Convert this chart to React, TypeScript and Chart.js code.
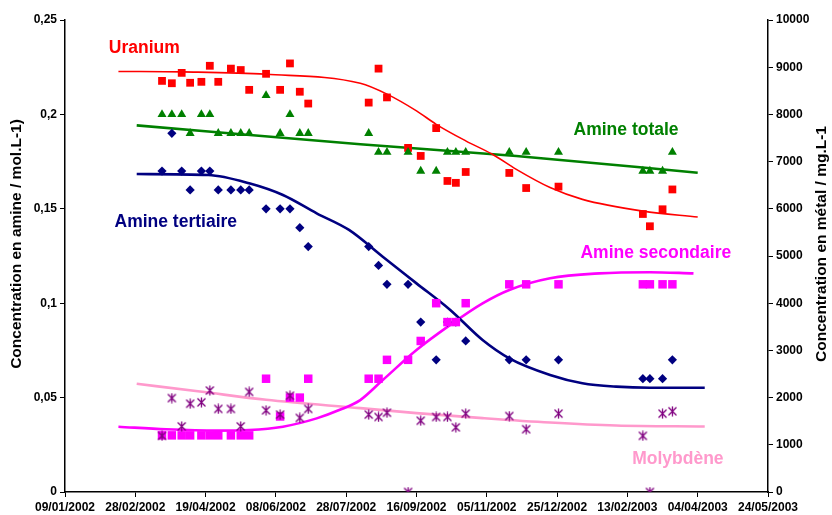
import React, { useEffect, useRef } from 'react';
import { Chart, registerables } from 'chart.js';

Chart.register(...registerables);

// ---------- data ----------
const START_DATE = '2002-01-09';
const X_MAX_DAYS = 500;
const X_STEP_DAYS = 50;

const sampleDates = [
  '2002-03-19', '2002-03-26', '2002-04-02', '2002-04-08', '2002-04-16', '2002-04-22',
  '2002-04-28', '2002-05-07', '2002-05-14', '2002-05-20', '2002-06-01', '2002-06-11',
  '2002-06-18', '2002-06-25', '2002-07-01', '2002-08-13', '2002-08-20', '2002-08-26',
  '2002-09-10', '2002-09-19', '2002-09-30', '2002-10-08', '2002-10-14', '2002-10-21',
  '2002-11-21', '2002-12-03', '2002-12-26', '2003-02-24', '2003-03-01', '2003-03-10',
  '2003-03-17',
];

// mg.L-1 (right axis)
const uranium = [
  8710, 8660, 8880, 8670, 8690, 9030, 8690, 8970, 8940, 8520, 8860, 8520,
  9080, 8480, 8230, 8250, 8970, 8360, 7290, 7120, 7710, 6590, 6550, 6780,
  6760, 6440, 6470, 5890, 5630, 5990, 6410,
];
const molybdene = [
  1190, 1990, 1390, 1870, 1900, 2150, 1760, 1760, 1390, 2120, 1730, 1640,
  2040, 1570, 1760, 1640, 1590, 1680, 0, 1510, 1590, 1590, 1370, 1660,
  1610, 1330, 1660, 1190, 0, 1660, 1710,
];
// mol.L-1 (left axis)
const amineTotale = [
  0.20, 0.20, 0.20, 0.19, 0.20, 0.20, 0.19, 0.19, 0.19, 0.19, 0.21, 0.19,
  0.20, 0.19, 0.19, 0.19, 0.18, 0.18, 0.18, 0.17, 0.17, 0.18, 0.18, 0.18,
  0.18, 0.18, 0.18, 0.17, 0.17, 0.17, 0.18,
];
const amineTertiaire = [
  0.17, 0.19, 0.17, 0.16, 0.17, 0.17, 0.16, 0.16, 0.16, 0.16, 0.15, 0.15,
  0.15, 0.14, 0.13, 0.13, 0.12, 0.11, 0.11, 0.09, 0.07, 0.09, 0.09, 0.08,
  0.07, 0.07, 0.07, 0.06, 0.06, 0.06, 0.07,
];
const amineSecondaire = [
  0.03, 0.03, 0.03, 0.03, 0.03, 0.03, 0.03, 0.03, 0.03, 0.03, 0.06, 0.04,
  0.05, 0.05, 0.06, 0.06, 0.06, 0.07, 0.07, 0.08, 0.10, 0.09, 0.09, 0.10,
  0.11, 0.11, 0.11, 0.11, 0.11, 0.11, 0.11,
];

// fitted curves (x = days since 09/01/2002)
const uraniumFitDays = [38, 84, 143, 210, 229, 250, 264, 285, 304, 321, 345, 368, 411, 450];
const uraniumFit = [8910, 8900, 8850, 8660, 8430, 8075, 7790, 7440, 7155, 6835, 6450, 6200, 5950, 5825];

const totaleFitDays = [51, 210, 321, 450];
const totaleFit = [0.1942, 0.1842, 0.1780, 0.1691];

const tertiaireFitDays = [51, 102, 131, 155, 179, 202, 226, 250, 274, 297, 316, 345, 368, 392, 416, 455];
const tertiaireFit = [0.1684, 0.1679, 0.1635, 0.1573, 0.1476, 0.1388, 0.1246, 0.1105, 0.0964, 0.0805, 0.0708, 0.0620, 0.0576, 0.0558, 0.0552, 0.0552];

const secondaireFitDays = [38, 72, 108, 131, 155, 179, 195, 210, 226, 250, 274, 297, 316, 345, 380, 416, 447];
const secondaireFit = [0.0346, 0.0332, 0.0325, 0.0328, 0.0346, 0.0390, 0.0434, 0.0487, 0.0593, 0.0752, 0.0885, 0.0999, 0.1070, 0.1132, 0.1158, 0.1164, 0.1158];

const molybdeneFitDays = [51, 96, 143, 210, 250, 297, 345, 392, 455];
const molybdeneFit = [2293, 2129, 1953, 1777, 1671, 1565, 1471, 1408, 1387];

// series labels (x = days, y = left-axis value at text baseline)
const labelTexts = ['Uranium', 'Amine totale', 'Amine tertiaire', 'Amine secondaire', 'Molybdène'];
const labelDays = [31.2, 361.7, 35.2, 366.6, 403.4];
const labelValues = [0.2324, 0.1891, 0.1402, 0.1238, 0.0148];
const labelColors = ['#FF0000', '#008000', '#000080', '#FF00FF', '#FF99CC'];

const leftTitle = 'Concentration en amine / mol.L-1)';
const rightTitle = 'Concentration en métal / mg.L-1';

// ---------- helpers ----------
const DAY_MS = 86400000;
const parseUTC = (s: string) => {
  const [y, m, d] = s.split('-').map(Number);
  return Date.UTC(y, m - 1, d);
};
const startMs = parseUTC(START_DATE);
const dayOf = (s: string) => Math.round((parseUTC(s) - startMs) / DAY_MS);
const pad = (n: number) => (n < 10 ? '0' + n : '' + n);
const fmtDay = (day: number) => {
  const d = new Date(startMs + Math.round(day) * DAY_MS);
  return `${pad(d.getUTCDate())}/${pad(d.getUTCMonth() + 1)}/${d.getUTCFullYear()}`;
};
const pts = (values: number[]) => values.map((v, i) => ({ x: dayOf(sampleDates[i]), y: v }));
const curve = (days: number[], values: number[]) => days.map((d, i) => ({ x: d, y: values[i] }));

function makeAsterisk(color: string) {
  const c = document.createElement('canvas');
  const s = 11;
  c.width = s;
  c.height = s;
  const g = c.getContext('2d')!;
  g.strokeStyle = color;
  g.lineWidth = 1.3;
  g.beginPath();
  g.moveTo(1.5, 1.5); g.lineTo(s - 1.5, s - 1.5);
  g.moveTo(s - 1.5, 1.5); g.lineTo(1.5, s - 1.5);
  g.moveTo(s / 2, 0.5); g.lineTo(s / 2, s - 0.5);
  g.stroke();
  return c;
}

const FONT_FAMILY = '"Liberation Sans", Arial, sans-serif';
const tickFont = { family: FONT_FAMILY, size: 12, weight: 'bold' as const };

const textPlugin = {
  id: 'seriesText',
  afterDatasetsDraw(chart: any) {
    const { ctx, scales, chartArea } = chart;
    ctx.save();
    ctx.font = `bold 17.5px ${FONT_FAMILY}`;
    ctx.textBaseline = 'alphabetic';
    ctx.textAlign = 'left';
    labelTexts.forEach((t, i) => {
      ctx.fillStyle = labelColors[i];
      ctx.fillText(t, scales.x.getPixelForValue(labelDays[i]), scales.y.getPixelForValue(labelValues[i]));
    });
    // axis titles, both reading bottom to top
    ctx.font = `bold 15.5px ${FONT_FAMILY}`;
    ctx.fillStyle = '#000';
    ctx.textAlign = 'center';
    ctx.textBaseline = 'middle';
    const midY = (chartArea.top + chartArea.bottom) / 2 - 12;
    [[17, leftTitle], [chart.width - 10, rightTitle]].forEach(([x, t]: any) => {
      ctx.save();
      ctx.translate(x, midY);
      ctx.rotate(-Math.PI / 2);
      ctx.fillText(t, 0, 0);
      ctx.restore();
    });
    ctx.restore();
  },
};

export default function App() {
  const ref = useRef<HTMLCanvasElement>(null);

  useEffect(() => {
    document.body.style.margin = '0';
    const canvas = ref.current!;
    const star = makeAsterisk('#800080');

    const curveDs = (label: string, data: any[], color: string, width: number, axis: string, order: number) => ({
      type: 'line' as const,
      label,
      data,
      yAxisID: axis,
      borderColor: color,
      borderWidth: width,
      pointRadius: 0,
      showLine: true,
      fill: false,
      cubicInterpolationMode: 'monotone' as const,
      order,
    });

    const chart = new Chart(canvas, {
      type: 'scatter',
      data: {
        datasets: [
          { label: 'Molybdène', data: pts(molybdene), yAxisID: 'y1', pointStyle: star as any, pointRadius: 5, order: 0 },
          { label: 'Amine secondaire', data: pts(amineSecondaire), yAxisID: 'y', pointStyle: 'rect', pointRadius: 6, backgroundColor: '#FF00FF', borderWidth: 0, order: 1 },
          { label: 'Amine tertiaire', data: pts(amineTertiaire), yAxisID: 'y', pointStyle: 'rectRot', pointRadius: 4.6, backgroundColor: '#000080', borderWidth: 0, order: 2 },
          { label: 'Amine totale', data: pts(amineTotale), yAxisID: 'y', pointStyle: 'triangle', pointRadius: 5.2, backgroundColor: '#008000', borderWidth: 0, order: 3 },
          { label: 'Uranium', data: pts(uranium), yAxisID: 'y1', pointStyle: 'rect', pointRadius: 5.5, backgroundColor: '#FF0000', borderWidth: 0, order: 4 },
          curveDs('fit U', curve(uraniumFitDays, uraniumFit), '#FF0000', 1.6, 'y1', 5),
          curveDs('fit totale', curve(totaleFitDays, totaleFit), '#008000', 2.6, 'y', 6),
          curveDs('fit tertiaire', curve(tertiaireFitDays, tertiaireFit), '#000080', 2.6, 'y', 7),
          curveDs('fit secondaire', curve(secondaireFitDays, secondaireFit), '#FF00FF', 2.6, 'y', 8),
          curveDs('fit Mo', curve(molybdeneFitDays, molybdeneFit), '#FF99CC', 2.6, 'y1', 9),
        ] as any,
      },
      options: {
        responsive: false,
        animation: false,
        devicePixelRatio: 1,
        layout: { padding: { top: 20, left: 0, right: 0, bottom: 0 } },
        plugins: { legend: { display: false }, tooltip: { enabled: false } },
        events: [],
        scales: {
          x: {
            type: 'linear',
            min: 0,
            max: X_MAX_DAYS,
            ticks: {
              stepSize: X_STEP_DAYS,
              autoSkip: false,
              maxRotation: 0,
              padding: 3,
              color: '#000',
              font: tickFont,
              callback: (v: any) => fmtDay(Number(v)),
            },
            grid: { display: true, drawOnChartArea: false, drawTicks: true, tickLength: 5, color: '#000', lineWidth: 1 },
            border: { display: true, color: '#000', width: 1.5 },
            afterFit: (s: any) => { s.height = 23; },
          },
          y: {
            type: 'linear',
            position: 'left',
            min: 0,
            max: 0.25,
            ticks: {
              stepSize: 0.05,
              padding: 3,
              color: '#000',
              font: tickFont,
              callback: (v: any) => String(Number(Number(v).toFixed(2))).replace('.', ','),
            },
            grid: { display: true, drawOnChartArea: false, drawTicks: true, tickLength: 5, color: '#000', lineWidth: 1 },
            border: { display: true, color: '#000', width: 1.5 },
            afterFit: (s: any) => { s.width = 65; },
          },
          y1: {
            type: 'linear',
            position: 'right',
            min: 0,
            max: 10000,
            ticks: {
              stepSize: 1000,
              padding: 3,
              color: '#000',
              font: tickFont,
              callback: (v: any) => String(v),
            },
            grid: { display: true, drawOnChartArea: false, drawTicks: true, tickLength: 5, color: '#000', lineWidth: 1 },
            border: { display: true, color: '#000', width: 1.5 },
            afterFit: (s: any) => { s.width = 64; },
          },
        },
      } as any,
      plugins: [textPlugin],
    });
    return () => chart.destroy();
  }, []);

  return (
    <div style={{ position: 'absolute', left: 0, top: 0, width: 832, height: 515, background: '#fff' }}>
      <canvas ref={ref} width={832} height={515} style={{ display: 'block' }} />
    </div>
  );
}
